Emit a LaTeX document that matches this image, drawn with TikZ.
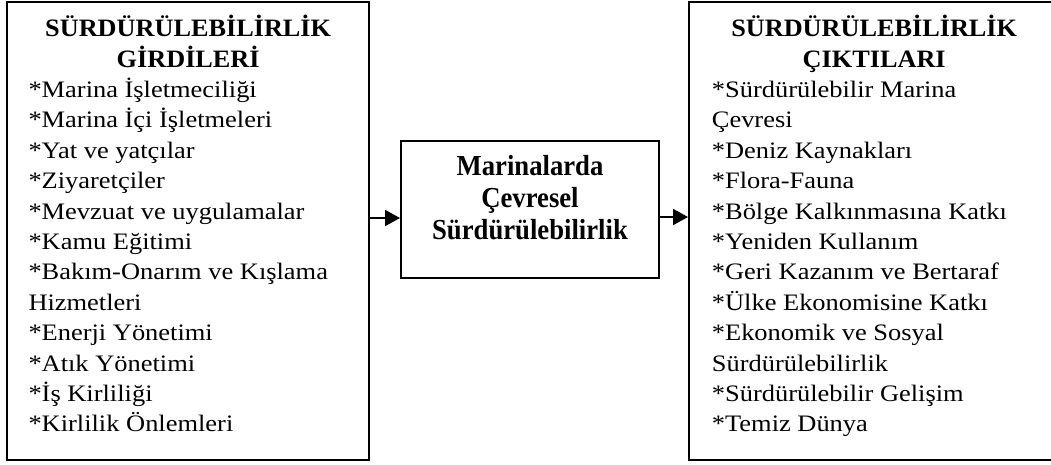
\documentclass[tikz,border=0pt]{standalone}
\usepackage{fontspec}
\setmainfont{Liberation Serif}
\newfontfamily\itemfont[FakeStretch=1.12]{Liberation Serif}
\newfontfamily\headfont[FakeStretch=1.05]{Liberation Serif}
\newfontfamily\midfont[FakeStretch=0.92]{Liberation Serif}
\usetikzlibrary{arrows.meta}
\tikzset{
  frame/.style={draw, line width=2pt, inner sep=0pt},
  txt/.style={inner sep=0pt, anchor=base west},
  arr/.style={-{Triangle[length=15pt,width=16pt]}, line width=2pt},
}
\newcommand{\headset}{\headfont\bfseries\fontsize{25}{30.4}\selectfont}
\newcommand{\itemset}{\itemfont\mdseries\fontsize{23.6}{30.4}\selectfont}
\newcommand{\nl}{\\{}}
\begin{document}
\begin{tikzpicture}[x=1pt,y=-1pt]
\useasboundingbox (0,0) rectangle (1051,464);
\node[frame, minimum width=362pt, minimum height=458pt] (L) at (188,230.5) {};
\node[frame, minimum width=370pt, minimum height=458pt] (R) at (874,230.5) {};
\node[frame, minimum width=258pt, minimum height=137pt] (M) at (530,209.5) {};
\node[txt] (Lt) at (28.3,36.7) {\parbox[t]{319.4pt}{\headset\centering
SÜRDÜRÜLEBİLİRLİK\nl GİRDİLERİ\par
\raggedright\itemset
*Marina İşletmeciliği\nl
*Marina İçi İşletmeleri\nl
*Yat ve yatçılar\nl
*Ziyaretçiler\nl
*Mevzuat ve uygulamalar\nl
*Kamu Eğitimi\nl
*Bakım-Onarım ve Kışlama\nl
Hizmetleri\nl
*Enerji Yönetimi\nl
*Atık Yönetimi\nl
*İş Kirliliği\nl
*Kirlilik Önlemleri\par}};
\node[txt] (Rt) at (711.7,36.7) {\parbox[t]{324.6pt}{\headset\centering
SÜRDÜRÜLEBİLİRLİK\nl ÇIKTILARI\par
\raggedright\itemset
*Sürdürülebilir Marina\nl
Çevresi\nl
*Deniz Kaynakları\nl
*Flora-Fauna\nl
*Bölge Kalkınmasına Katkı\nl
*Yeniden Kullanım\nl
*Geri Kazanım ve Bertaraf\nl
*Ülke Ekonomisine Katkı\nl
*Ekonomik ve Sosyal\nl
Sürdürülebilirlik\nl
*Sürdürülebilir Gelişim\nl
*Temiz Dünya\par}};
\node[inner sep=0pt, anchor=base] (Mt) at (530,175) {\parbox[t]{250pt}{\midfont\bfseries\fontsize{29}{32}\selectfont\centering
Marinalarda\nl Çevresel\nl Sürdürülebilirlik\par}};
\coordinate (ay) at (0,218);
\coordinate (by) at (0,217);
\draw[arr] (L.east |- ay) -- (M.west |- ay);
\draw[arr] (M.east |- by) -- (R.west |- by);
\end{tikzpicture}
\end{document}
